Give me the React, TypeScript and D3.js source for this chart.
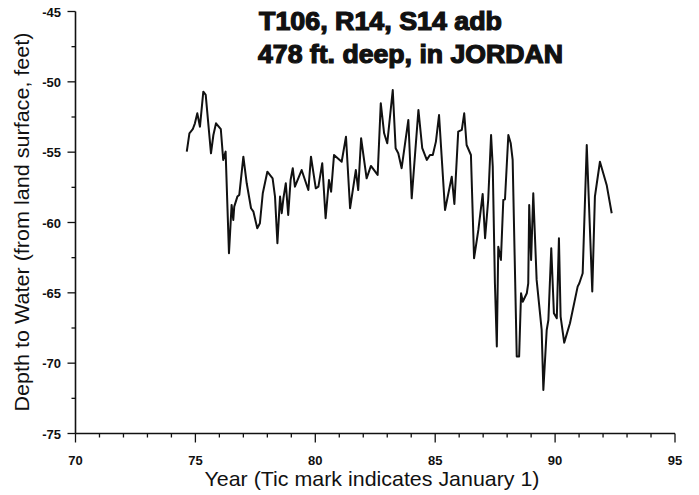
import React from "react";
import * as d3 from "d3";

const years: number[] = [
  74.64, 74.75, 74.89, 74.98, 75.08, 75.19, 75.33, 75.43, 75.65, 75.75,
  75.86, 76.06, 76.16, 76.26, 76.4, 76.51, 76.58, 76.62, 76.75, 76.83,
  77.0, 77.14, 77.32, 77.42, 77.58, 77.69, 77.81, 78.0, 78.22, 78.32,
  78.42, 78.53, 78.6, 78.67, 78.77, 78.87, 78.97, 79.06, 79.15, 79.43,
  79.71, 79.82, 80.02, 80.13, 80.29, 80.43, 80.57, 80.66, 80.78, 81.1,
  81.28, 81.45, 81.69, 81.79, 81.91, 82.14, 82.32, 82.6, 82.73, 82.87,
  83.0, 83.23, 83.35, 83.46, 83.6, 83.88, 84.02, 84.3, 84.46, 84.65,
  84.78, 84.9, 85.03, 85.16, 85.41, 85.69, 85.8, 85.96, 86.11, 86.21,
  86.31, 86.49, 86.62, 86.8, 86.98, 87.08, 87.21, 87.33, 87.4, 87.49,
  87.57, 87.63, 87.74, 87.84, 87.91, 88.05, 88.15, 88.23, 88.4, 88.5,
  88.58, 88.65, 88.82, 88.88, 88.92, 89.0, 89.09, 89.23, 89.44, 89.51,
  89.65, 89.72, 89.84, 89.95, 90.07, 90.16, 90.23, 90.38, 90.62, 90.94,
  91.01, 91.15, 91.32, 91.55, 91.66, 91.74, 91.87, 92.15, 92.36,
];

const depths: number[] = [
  -54.96, -53.66, -53.37, -52.95, -52.24, -53.19, -50.7, -50.93, -55.08, -53.78,
  -52.95, -53.37, -55.55, -54.96, -62.19, -58.75, -59.82, -58.87, -58.16, -58.04,
  -55.32, -57.21, -58.99, -59.23, -60.41, -60.05, -57.92, -56.39, -56.86, -58.16,
  -61.47, -58.16, -59.34, -58.28, -57.21, -59.46, -56.98, -56.14, -57.45, -56.27,
  -57.69, -55.32, -57.57, -57.45, -55.79, -59.7, -56.98, -57.81, -55.2, -55.68,
  -53.9, -58.99, -56.27, -57.69, -54.01, -56.86, -55.98, -56.62, -51.52, -53.66,
  -54.37, -50.58, -54.72, -55.08, -56.14, -52.71, -58.28, -52.0, -54.72, -55.55,
  -55.2, -55.2, -54.25, -52.36, -59.11, -56.74, -58.68, -53.54, -53.42, -52.24,
  -54.49, -55.2, -62.54, -60.53, -57.97, -61.12, -58.4, -53.78, -56.03, -64.32,
  -68.82, -61.72, -62.66, -58.4, -58.35, -53.78, -54.37, -55.55, -69.53, -69.53,
  -65.03, -65.63, -65.03, -64.32, -58.75, -62.66, -57.92, -64.08, -67.64, -71.9,
  -67.64, -66.93, -61.83, -66.45, -66.81, -61.12, -66.69, -68.54, -67.16, -64.56,
  -64.32, -63.61, -54.49, -64.91, -58.16, -57.21, -55.68, -57.33, -59.34,
];

const xTickValues: number[] = [70, 75, 80, 85, 90, 95];
const yTickValues: number[] = [-45, -50, -55, -60, -65, -70, -75];
const titleLines: string[] = ["T106, R14, S14 adb", "478 ft. deep, in JORDAN"];
const xLabel = "Year (Tic mark indicates January 1)";
const yLabel = "Depth to Water (from land surface, feet)";

export default function App() {
  const W = 699;
  const H = 495;
  const x = d3.scaleLinear().domain([70, 95]).range([75.5, 675]);
  const y = d3.scaleLinear().domain([-45, -75]).range([11.5, 433.5]);

  const pts: [number, number][] = years.map((yr, i) => [yr, depths[i]]);
  const line = d3
    .line<[number, number]>()
    .x((d) => x(d[0]))
    .y((d) => y(d[1]));

  const xMinor = d3.range(70, 96, 1);
  const yMinor = d3.range(-45, -75.01, -2.5);
  const font = "'Liberation Sans', Arial, Helvetica, sans-serif";

  return (
    <svg
      width={W}
      height={H}
      viewBox={`0 0 ${W} ${H}`}
      style={{ position: "absolute", left: 0, top: 0, background: "#fff" }}
    >
      <rect x={0} y={0} width={W} height={H} fill="#fff" />
      <line x1={x(70)} x2={x(70)} y1={y(-45)} y2={y(-75)} stroke="#111" strokeWidth={1.6} />
      <line x1={x(70)} x2={x(95)} y1={y(-75)} y2={y(-75)} stroke="#111" strokeWidth={1.6} />
      {yMinor.map((v) => {
        const major = Math.abs(v % 5) < 0.01;
        return (
          <line
            key={"ym" + v}
            x1={x(70) - (major ? 8 : 4)}
            x2={x(70)}
            y1={y(v)}
            y2={y(v)}
            stroke="#111"
            strokeWidth={1.3}
          />
        );
      })}
      {xMinor.map((v) => {
        const major = v % 5 === 0;
        return (
          <line
            key={"xm" + v}
            x1={x(v)}
            x2={x(v)}
            y1={y(-75)}
            y2={y(-75) + (major ? 9 : 4)}
            stroke="#111"
            strokeWidth={1.3}
          />
        );
      })}
      {yTickValues.map((v) => (
        <text
          key={"yt" + v}
          x={61}
          y={y(v) + 5}
          textAnchor="end"
          fontFamily={font}
          fontWeight="bold"
          fontSize={13}
          fill="#111"
        >
          {String(v)}
        </text>
      ))}
      {xTickValues.map((v) => (
        <text
          key={"xt" + v}
          x={x(v)}
          y={465}
          textAnchor="middle"
          fontFamily={font}
          fontWeight="bold"
          fontSize={13}
          fill="#111"
        >
          {String(v)}
        </text>
      ))}
      <path d={line(pts) || ""} fill="none" stroke="#111" strokeWidth={2} strokeLinejoin="round" />
      <text
        x={259}
        y={30}
        fontFamily={font}
        fontWeight="bold"
        fontSize={25}
        fill="#111"
        stroke="#111"
        strokeWidth={1.2}
        textLength={243}
        lengthAdjust="spacingAndGlyphs"
      >
        {titleLines[0]}
      </text>
      <text
        x={258}
        y={63}
        fontFamily={font}
        fontWeight="bold"
        fontSize={25}
        fill="#111"
        stroke="#111"
        strokeWidth={1.2}
        textLength={305}
        lengthAdjust="spacingAndGlyphs"
      >
        {titleLines[1]}
      </text>
      <text
        x={372}
        y={486}
        textAnchor="middle"
        fontFamily={font}
        fontSize={21}
        fill="#111"
        textLength={335}
        lengthAdjust="spacingAndGlyphs"
      >
        {xLabel}
      </text>
      <text
        transform={`translate(29, 222) rotate(-90)`}
        textAnchor="middle"
        fontFamily={font}
        fontSize={21}
        fill="#111"
        textLength={379}
        lengthAdjust="spacingAndGlyphs"
      >
        {yLabel}
      </text>
    </svg>
  );
}
